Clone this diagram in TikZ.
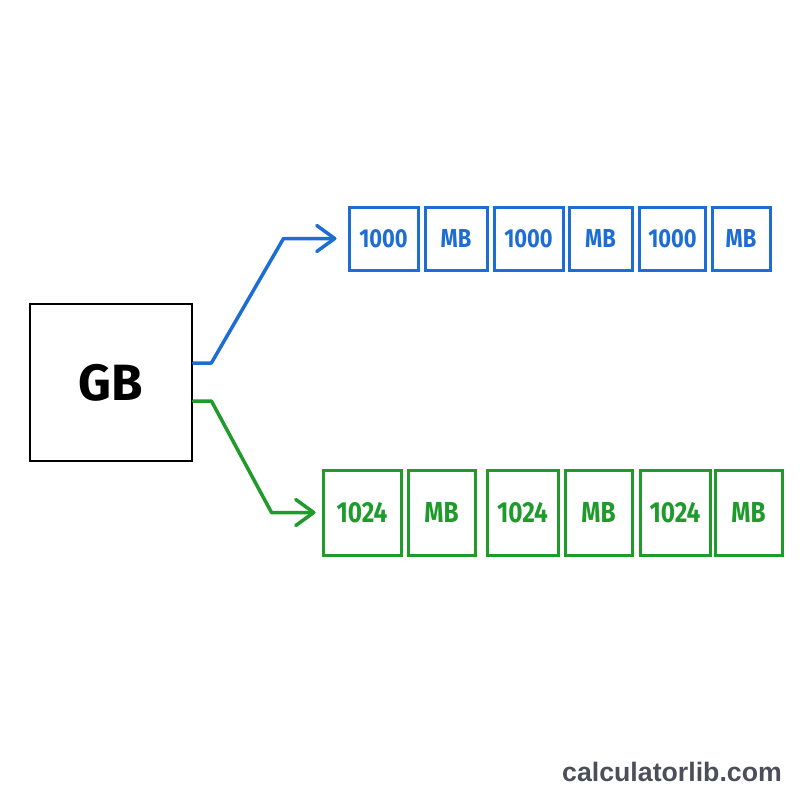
\documentclass[tikz,border=0pt]{standalone}
\usepackage{fontspec}
\setsansfont{Fira Sans}
\newfontfamily\narrowsf[FakeStretch=0.84]{Fira Sans}
\newfontfamily\wmfont{Liberation Sans}
\usepackage{tikz}
\usetikzlibrary{arrows.meta,calc,positioning}

\definecolor{mbblue}{RGB}{28,110,212}
\definecolor{mbgreen}{RGB}{30,155,42}
\definecolor{wmgray}{RGB}{74,79,89}

\begin{document}
\begin{tikzpicture}[x=1pt, y=-1pt,
    unitbox/.style={draw, rectangle, inner sep=0pt, line width=3pt},
    bluebox/.style={unitbox, draw=mbblue, text=mbblue, minimum height=63pt,
        font=\narrowsf\bfseries\fontsize{26}{30}\selectfont},
    greenbox/.style={unitbox, draw=mbgreen, text=mbgreen, minimum height=85pt,
        font=\narrowsf\bfseries\fontsize{29}{33}\selectfont},
    linkarrow/.style={line width=3.5pt, line cap=round, line join=round,
        -{Straight Barb[length=18pt, width=26pt, line cap=round, line join=round]}}]
    \useasboundingbox (0,0) rectangle (800,800);

    % GB Box
    \node[draw, rectangle, line width=2.8pt, minimum width=162pt, minimum height=157pt,
        font=\sffamily\bfseries\fontsize{51}{56}\selectfont] (gb) at (111,382.5) {GB};

    % Decimal Row (1000 MB)
    \node[bluebox, minimum width=69pt] (b1) at (383.5,238.5) {1000};
    \node[bluebox, minimum width=62pt] (b2) at (456,238.5) {MB};
    \node[bluebox, minimum width=69pt] (b3) at (528.5,238.5) {1000};
    \node[bluebox, minimum width=63pt] (b4) at (600.5,238.5) {MB};
    \node[bluebox, minimum width=66pt] (b5) at (672.5,238.5) {1000};
    \node[bluebox, minimum width=58pt] (b6) at (741,238.5) {MB};

    % Binary Row (1024 MB)
    \node[greenbox, minimum width=78pt] (g1) at (362,512.5) {1024};
    \node[greenbox, minimum width=67pt] (g2) at (441.5,512.5) {MB};
    \node[greenbox, minimum width=71pt] (g3) at (522.5,512.5) {1024};
    \node[greenbox, minimum width=67pt] (g4) at (598.5,512.5) {MB};
    \node[greenbox, minimum width=70pt] (g5) at (675,512.5) {1024};
    \node[greenbox, minimum width=67pt] (g6) at (748.5,512.5) {MB};

    % Links
    \draw[linkarrow, draw=mbblue, shorten >=11pt] ([yshift=19.5pt]gb.east) -- ++(18,0)
        -- ($(b1.west)+(-64,0)$) -- (b1.west);
    \draw[linkarrow, draw=mbgreen, shorten >=6pt] ([yshift=-18.5pt]gb.east) -- ++(18,0)
        -- ($(g1.west)+(-50,0)$) -- (g1.west);

    % Watermark
    \node[font=\wmfont\bfseries\fontsize{26.7}{30}\selectfont, text=wmgray,
        anchor=east, inner sep=0pt] (mark) at (782,772) {calculatorlib.com};
\end{tikzpicture}
\end{document}
